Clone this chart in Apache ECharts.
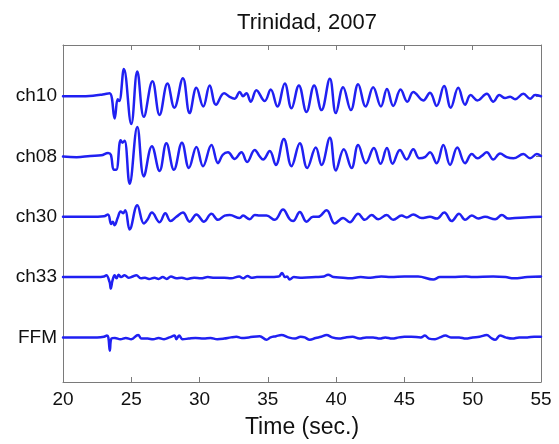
<!DOCTYPE html>
<html>
<head>
<meta charset="utf-8">
<script src="https://cdn.jsdelivr.net/npm/echarts@6/dist/echarts.min.js"></script>
<style>
html,body{margin:0;padding:0;background:#fff;}
#chart{width:559px;height:444px;}
</style>
</head>
<body>
<div id="chart"></div>
<script>
const titleText = 'Trinidad, 2007';
const xName = 'Time (sec.)';
const channels = ['ch10', 'ch08', 'ch30', 'ch33', 'FFM'];
const channelOffsets = [5, 4, 3, 2, 1];
const xMin = 20, xMax = 55, xStep = 5;

// [time (s), amplitude in trace-spacing units]
const ch10 = [
  [20,0],[21.2,0],[22.2,0.01],[22.9,0.03],[23.41,0.05],[23.78,-0.37],[24.0,-0.05],[24.12,-0.08],
  [24.46,0.45],[25.0,-0.46],[25.44,0.41],[25.92,-0.34],[26.55,0.25],[27.07,-0.31],[27.65,0.21],
  [28.15,-0.19],[28.78,0.30],[29.27,-0.28],[29.77,0.14],[30.27,-0.17],[30.74,0.18],[31.2,-0.14],
  [31.8,0.05],[32.2,-0.01],[32.57,-0.04],[32.94,0.07],[33.18,0.0],[33.43,0.05],[33.75,-0.09],
  [34.16,0.10],[34.77,-0.08],[35.21,0.11],[35.70,-0.17],[36.24,0.21],[36.73,-0.20],[37.27,0.18],
  [37.83,-0.26],[38.39,0.18],[38.93,-0.23],[39.54,0.29],[39.98,-0.28],[40.51,0.15],[41.08,-0.23],
  [41.61,0.20],[42.16,-0.17],[42.71,0.15],[43.28,-0.17],[43.72,0.12],[44.18,-0.16],[44.72,0.11],
  [45.21,-0.09],[45.65,0.07],[46.38,-0.07],[46.87,0.06],[47.36,-0.16],[47.90,0.17],[48.39,-0.19],
  [48.94,0.14],[49.44,-0.14],[49.85,0.02],[50.34,-0.07],[51.03,0.04],[51.51,-0.09],[51.95,0.02],
  [52.37,-0.03],[52.74,-0.01],[53.10,-0.05],[53.71,0.04],[54.20,-0.04],[54.57,0.02],[55,0.0]
];
const ch08 = [
  [20,0],[21,-0.01],[22,0.01],[22.8,0.02],[23.3,0.06],[23.5,0.03],[23.72,-0.22],[23.9,-0.22],
  [24.22,0.27],[24.36,0.23],[24.51,0.26],[24.88,-0.45],[25.44,0.49],[25.92,-0.33],[26.51,0.17],
  [27.07,-0.24],[27.57,0.22],[28.12,-0.22],[28.71,0.23],[29.22,-0.19],[29.77,0.16],[30.25,-0.16],
  [30.87,0.19],[31.35,-0.11],[31.7,0.03],[32.08,0.07],[32.57,-0.04],[33.06,0.07],[33.48,-0.09],
  [34.04,0.11],[34.41,0.0],[34.65,-0.05],[35.14,0.09],[35.58,-0.14],[36.17,0.29],[36.73,-0.16],
  [37.34,0.22],[37.88,-0.19],[38.51,0.15],[38.93,-0.14],[39.54,0.31],[39.98,-0.23],[40.56,0.12],
  [41.13,-0.19],[41.61,0.19],[42.18,-0.11],[42.76,0.14],[43.25,-0.12],[43.72,0.14],[44.13,-0.12],
  [44.67,0.11],[45.16,-0.05],[45.65,0.12],[46.09,-0.03],[46.5,-0.01],[46.87,0.07],[47.36,-0.11],
  [47.85,0.19],[48.34,-0.14],[48.87,0.15],[49.44,-0.11],[49.93,0.04],[50.34,-0.03],[50.66,0.01],
  [51.03,0.07],[51.51,-0.05],[52.0,0.05],[52.49,-0.01],[52.98,-0.03],[53.71,0.04],[54.2,-0.03],
  [54.69,0.04],[55,0.01]
];
const ch30 = [
  [20,0],[22,0],[23.0,0.01],[23.29,0.04],[23.53,-0.12],[23.65,-0.08],[23.78,-0.14],[24.0,-0.02],
  [24.22,0.09],[24.4,0.06],[24.56,0.11],[24.88,-0.21],[25.44,0.19],[25.92,-0.11],[26.2,-0.04],
  [26.51,0.07],[27.07,-0.09],[27.49,0.06],[27.88,-0.07],[28.3,0.0],[28.78,0.07],[29.27,-0.08],
  [29.77,0.04],[30.32,-0.08],[30.87,0.05],[31.35,-0.05],[31.84,0.02],[32.21,0.03],[32.94,-0.02],
  [33.18,0.02],[33.67,-0.04],[34.04,0.03],[34.41,0.02],[34.9,0.02],[35.51,-0.05],[36.11,0.12],
  [36.6,-0.04],[36.85,-0.07],[37.34,0.08],[37.83,-0.08],[38.31,0.0],[38.68,0.0],[39.3,0.11],
  [39.9,-0.11],[40.51,-0.02],[41.0,-0.09],[41.61,0.05],[42.1,-0.05],[42.6,0.03],[43.08,-0.04],
  [43.7,0.03],[44.18,-0.05],[44.8,0.02],[45.16,-0.01],[45.65,0.04],[46.26,-0.02],[46.87,0.0],
  [47.36,-0.03],[47.92,0.07],[48.46,-0.07],[49.0,0.05],[49.44,-0.05],[49.93,0.02],[50.41,-0.03],
  [50.9,0.0],[51.64,-0.04],[52.13,0.03],[52.61,-0.03],[53.1,-0.02],[53.83,-0.01],[55,0.0]
];
const ch33 = [
  [20,0],[22.5,0],[23.0,0.01],[23.17,0.03],[23.41,-0.08],[23.5,-0.19],[23.62,-0.06],[23.78,0.03],
  [23.92,-0.02],[24.07,0.04],[24.25,0.0],[24.51,0.03],[24.8,-0.01],[25.1,0.01],[25.37,0.03],
  [25.7,-0.02],[26.0,-0.01],[26.3,-0.03],[26.7,-0.01],[27.0,-0.03],[27.3,0.0],[27.6,-0.03],
  [27.9,0.01],[28.3,-0.02],[28.7,-0.01],[29.1,-0.03],[29.6,-0.01],[30.1,-0.02],[30.6,0.0],
  [31.1,-0.01],[31.8,-0.01],[32.3,-0.02],[32.9,0.01],[33.2,-0.02],[33.5,0.02],[33.8,-0.01],
  [34.2,0.0],[35.0,0.0],[35.8,0.01],[36.04,0.07],[36.25,0.0],[36.4,0.01],[36.6,-0.04],[36.9,0.0],
  [37.5,-0.01],[38.5,0.0],[39.1,0.01],[39.41,0.04],[39.8,0.0],[40.5,-0.01],[41.0,-0.02],[41.8,0.0],
  [42.5,-0.01],[43.3,0.01],[44.0,0.0],[45.0,0.01],[46.0,0.01],[47.11,-0.04],[47.6,0.0],[48.5,0.0],
  [49.5,0.01],[50.0,0.0],[51.5,0.01],[52.4,0.0],[53.0,-0.02],[54.0,0.0],[55,0.01]
];
const ffm = [
  [20,0],[22.5,0],[23.0,0.01],[23.22,0.03],[23.32,0.0],[23.43,-0.22],[23.55,-0.02],[23.8,-0.01],
  [24.2,-0.03],[24.6,-0.01],[25.0,-0.03],[25.5,0.04],[25.75,-0.02],[26.2,-0.02],[26.6,-0.03],
  [27.0,-0.01],[27.4,-0.03],[27.8,0.0],[28.17,0.03],[28.3,-0.03],[28.5,0.03],[28.75,-0.03],
  [29.2,-0.02],[29.7,-0.01],[30.3,-0.02],[30.8,-0.01],[31.3,-0.03],[31.8,-0.02],[32.3,0.0],
  [32.7,0.01],[33.1,-0.01],[33.6,0.0],[34.4,0.02],[34.9,-0.04],[35.2,0.0],[35.6,0.02],[36.0,0.04],
  [36.5,0.0],[37.0,-0.02],[37.4,0.01],[37.7,0.0],[38.07,-0.04],[38.5,-0.01],[38.9,0.01],[39.3,0.04],
  [39.7,0.0],[40.2,-0.02],[40.7,0.0],[41.2,0.01],[41.7,-0.02],[42.2,0.0],[42.7,0.0],[43.2,-0.02],
  [43.6,0.0],[44.1,-0.02],[44.6,0.0],[45.0,0.01],[45.5,0.01],[46.2,0.0],[46.5,0.03],[46.8,-0.02],
  [47.24,-0.03],[47.6,0.0],[48.0,0.03],[48.4,0.0],[49.0,0.0],[49.5,-0.02],[50.0,0.0],[50.5,0.01],
  [51.03,0.04],[51.35,-0.01],[51.64,-0.04],[52.0,0.03],[52.4,0.0],[52.9,-0.02],[53.4,0.0],
  [54.0,0.0],[54.5,0.01],[55,0.01]
];
const traces = [ch10, ch08, ch30, ch33, ffm];

const FONT = '"Liberation Sans", Arial, Helvetica, sans-serif';
const AX = '#7a7a7a';
const BLUE = '#2020f2';

const chart = echarts.init(document.getElementById('chart'), null, {renderer: 'canvas'});

const series = traces.map((tr, k) => ({
  type: 'line',
  name: channels[k],
  xAxisIndex: 0,
  yAxisIndex: 0,
  data: tr.map(p => [p[0], channelOffsets[k] + p[1]]),
  smooth: 0.4,
  showSymbol: false,
  symbol: 'none',
  lineStyle: {color: BLUE, width: 2.5, join: 'round', cap: 'round'},
  silent: true,
  animation: false,
  z: 3
}));

const ytickVals = channelOffsets.slice();

chart.setOption({
  backgroundColor: '#ffffff',
  animation: false,
  title: {
    text: titleText,
    left: 302,
    textAlign: 'center',
    top: 7,
    textStyle: {fontFamily: FONT, fontSize: 22, fontWeight: 'normal', color: '#111'}
  },
  grid: {left: 63, right: 18, top: 45, bottom: 55, containLabel: false},
  xAxis: [
    {
      type: 'value', position: 'bottom', min: xMin, max: xMax, interval: xStep,
      name: xName, nameLocation: 'middle', nameGap: 34,
      nameTextStyle: {fontFamily: FONT, fontSize: 23, color: '#111'},
      axisLine: {show: true, onZero: false, lineStyle: {color: AX, width: 1}},
      axisTick: {show: true, inside: true, length: 5, lineStyle: {color: AX}},
      axisLabel: {show: true, margin: 8, fontFamily: FONT, fontSize: 19, color: '#111'},
      splitLine: {show: false}
    },
    {
      type: 'value', position: 'top', min: xMin, max: xMax, interval: xStep,
      axisLine: {show: true, onZero: false, lineStyle: {color: AX, width: 1}},
      axisTick: {show: true, inside: true, length: 5, lineStyle: {color: AX}},
      axisLabel: {show: false},
      splitLine: {show: false}
    }
  ],
  yAxis: [
    {
      type: 'value', position: 'left', min: 0.26, max: 5.85,
      axisLine: {show: true, onZero: false, lineStyle: {color: AX, width: 1}},
      axisTick: {show: true, inside: true, length: 5, customValues: ytickVals, lineStyle: {color: AX}},
      axisLabel: {
        show: true, margin: 6, fontFamily: FONT, fontSize: 19, color: '#111',
        customValues: ytickVals,
        formatter: v => { const i = channelOffsets.indexOf(Math.round(v)); return i >= 0 ? channels[i] : ''; }
      },
      splitLine: {show: false}
    },
    {
      type: 'value', position: 'right', min: 0.26, max: 5.85,
      axisLine: {show: true, onZero: false, lineStyle: {color: AX, width: 1}},
      axisTick: {show: true, inside: true, length: 5, customValues: ytickVals, lineStyle: {color: AX}},
      axisLabel: {show: false},
      splitLine: {show: false}
    }
  ],
  series: series
});
</script>
</body>
</html>
